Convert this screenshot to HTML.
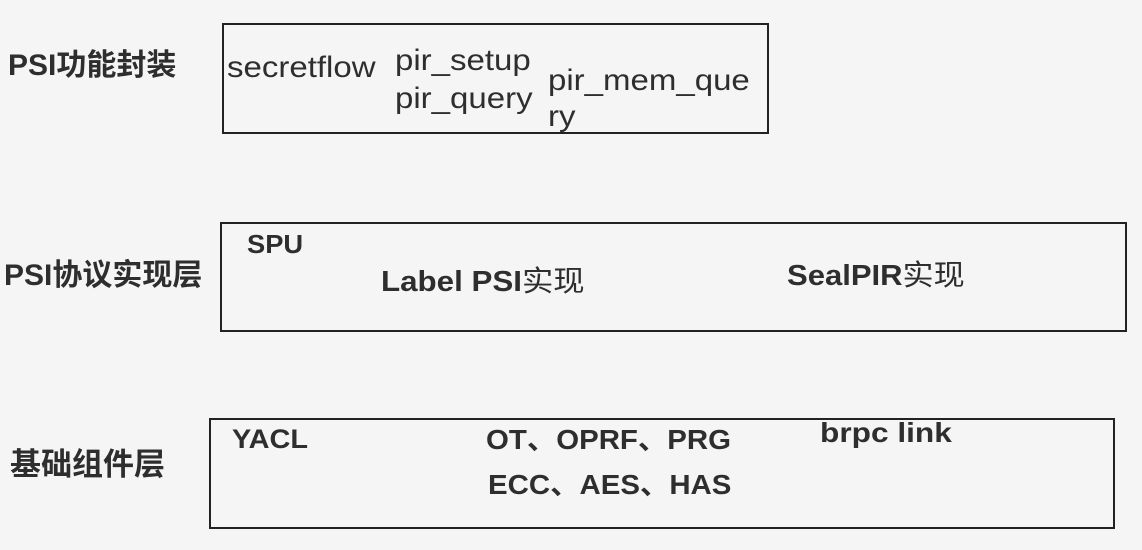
<!DOCTYPE html>
<html><head><meta charset="utf-8"><style>
body{margin:0;width:1142px;height:550px;background:#f5f5f5;position:relative;overflow:hidden;font-family:"Liberation Sans","Noto Sans CJK SC",sans-serif;color:#2e2e2e}
.t{position:absolute;white-space:nowrap;line-height:1;transform-origin:0 0}
.b{font-weight:bold}
.box{position:absolute;border:2px solid #222}
</style></head><body>
<div class="box" style="left:222px;top:23px;width:543px;height:107px"></div>
<div class="box" style="left:220px;top:222px;width:903px;height:106px"></div>
<div class="box" style="left:209px;top:418px;width:902px;height:107px"></div>

<div class="t b" style="left:8px;top:51px;font-size:30px">PSI功能封装</div>
<div class="t b" style="left:4px;top:261px;font-size:30px">PSI协议实现层</div>
<div class="t b" style="left:10px;top:449px;font-size:31px">基础组件层</div>

<div class="t" style="left:227px;top:53px;font-size:30px;transform:scaleX(1.1)">secretflow</div>
<div class="t" style="left:395px;top:46px;font-size:30px;transform:scaleX(1.1)">pir_setup</div>
<div class="t" style="left:395px;top:84px;font-size:30px;transform:scaleX(1.1)">pir_query</div>
<div class="t" style="left:548px;top:66px;font-size:30px;transform:scaleX(1.1)">pir_mem_que</div>
<div class="t" style="left:548px;top:102px;font-size:30px;transform:scaleX(1.1)">ry</div>

<div class="t b" style="left:247px;top:231px;font-size:26px;transform:scaleX(1.05)">SPU</div>
<div class="t b" style="left:381px;top:268px;font-size:29px;transform:scaleX(1.08)">Label PSI<span style="font-weight:normal">实现</span></div>
<div class="t b" style="left:787px;top:262px;font-size:29px;transform:scaleX(1.07)">SealPIR<span style="font-weight:normal">实现</span></div>

<div class="t b" style="left:232px;top:426px;font-size:27px;transform:scaleX(1.07)">YACL</div>
<div class="t b" style="left:486px;top:426px;font-size:28px;transform:scaleX(1.05)">OT、OPRF、PRG</div>
<div class="t b" style="left:488px;top:471px;font-size:28px;transform:scaleX(1.05)">ECC、AES、HAS</div>
<div class="t b" style="left:820px;top:419px;font-size:28px;transform:scaleX(1.13)">brpc link</div>
</body></html>
